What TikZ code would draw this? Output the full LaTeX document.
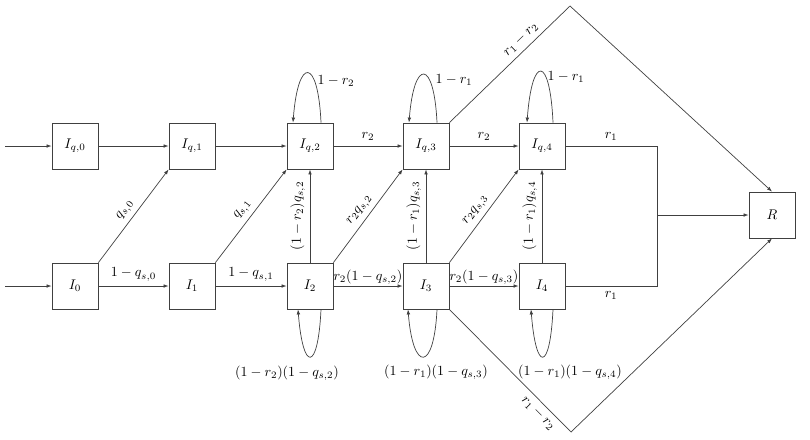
\documentclass[tikz,border=0pt]{standalone}
\usetikzlibrary{arrows.meta,calc}
\begin{document}
\begin{tikzpicture}[x=0.714pt,y=-0.714pt,line width=0.5pt,color=black!75,
  box/.style={draw,minimum size=32.9pt,inner sep=0pt,text=black},
  arr/.style={-{Latex[length=3.6pt,width=2.6pt]}},
  every node/.style={text=black}]
\useasboundingbox (0,0) rectangle (810,439);
% nodes
\node[box] (Iq0) at (75,146) {$I_{q,0}$};
\node[box] (Iq1) at (192,146) {$I_{q,1}$};
\node[box] (Iq2) at (310,146) {$I_{q,2}$};
\node[box] (Iq3) at (426,146) {$I_{q,3}$};
\node[box] (Iq4) at (542,146) {$I_{q,4}$};
\node[box] (I0) at (75,286) {$I_{0}$};
\node[box] (I1) at (192,286) {$I_{1}$};
\node[box] (I2) at (310,286) {$I_{2}$};
\node[box] (I3) at (426,286) {$I_{3}$};
\node[box] (I4) at (542,286) {$I_{4}$};
\node[box] (R) at (772,215) {$R$};
% coordinates
\coordinate (s0) at (5,146);
\coordinate (s1) at (5,286);
\coordinate (ja) at (657,146);
\coordinate (jb) at (657,286);
\coordinate (jm) at (657,215);
\coordinate (top) at (570,6);
\coordinate (bot) at (571,432);
% entries
\draw[arr] (s0) -- (Iq0);
\draw[arr] (s1) -- (I0);
% top row
\draw[arr] (Iq0) -- (Iq1);
\draw[arr] (Iq1) -- (Iq2);
\draw[arr] (Iq2) -- node[above]{$r_2$} (Iq3);
\draw[arr] (Iq3) -- node[above]{$r_2$} (Iq4);
% bottom row
\draw[arr] (I0) -- node[above]{$1-q_{s,0}$} (I1);
\draw[arr] (I1) -- node[above]{$1-q_{s,1}$} (I2);
\draw[arr] (I2) -- node[above,inner sep=1pt]{$r_2(1-q_{s,2})$} (I3);
\draw[arr] (I3) -- node[above,inner sep=1pt]{$r_2(1-q_{s,3})$} (I4);
% diagonals
\draw[arr] (I0.north east) -- node[above,sloped]{$q_{s,0}$} (Iq1.south west);
\draw[arr] (I1.north east) -- node[above,sloped]{$q_{s,1}$} (Iq2.south west);
\draw[arr] (I2.north east) -- node[above,sloped]{$r_2q_{s,2}$} (Iq3.south west);
\draw[arr] (I3.north east) -- node[above,sloped]{$r_2q_{s,3}$} (Iq4.south west);
% verticals
\draw[arr] (I2) -- node[above,sloped]{$(1-r_2)q_{s,2}$} (Iq2);
\draw[arr] (I3) -- node[above,sloped]{$(1-r_1)q_{s,3}$} (Iq3);
\draw[arr] (I4) -- node[above,sloped]{$(1-r_1)q_{s,4}$} (Iq4);
% to R
\draw (Iq4.east) -- node[above]{$r_1$} (ja) -- (jb) -- node[below]{$r_1$} (I4.east);
\draw[arr] (jm) -- (R.west);
\draw[arr] (Iq3.north east) -- node[pos=0.65,above,sloped]{$r_1-r_2$} (top) -- (R.north);
\draw[arr] (I3.south east) -- node[pos=0.79,below,sloped]{$r_1-r_2$} (bot) -- (R.south);
% self loops top
\draw[arr] ($(Iq2.north)+(11,0)$) .. controls +(-3,-66) and +(5,-66) .. ($(Iq2.north)+(-17,0)$);
\draw[arr] ($(Iq3.north)+(11,0)$) .. controls +(-3,-64) and +(5,-64) .. ($(Iq3.north)+(-17,0)$);
\draw[arr] ($(Iq4.north)+(11,0)$) .. controls +(-3,-68) and +(5,-68) .. ($(Iq4.north)+(-15,0)$);
\node (lq2) at (336,81) {$1-r_2$};
\node (lq3) at (454,80) {$1-r_1$};
\node (lq4) at (566,77) {$1-r_1$};
% self loops bottom
\draw[arr] ($(I2.south)+(11,0)$) .. controls +(-3,63) and +(5,63) .. ($(I2.south)+(-12,0)$);
\draw[arr] ($(I3.south)+(11,0)$) .. controls +(-3,63) and +(5,63) .. ($(I3.south)+(-18,0)$);
\draw[arr] ($(I4.south)+(11,0)$) .. controls +(-3,63) and +(5,63) .. ($(I4.south)+(-11,0)$);
\node (l2) at (287,373) {$(1-r_2)(1-q_{s,2})$};
\node (l3) at (436,372) {$(1-r_1)(1-q_{s,3})$};
\node (l4) at (570,372) {$(1-r_1)(1-q_{s,4})$};
\end{tikzpicture}
\end{document}
